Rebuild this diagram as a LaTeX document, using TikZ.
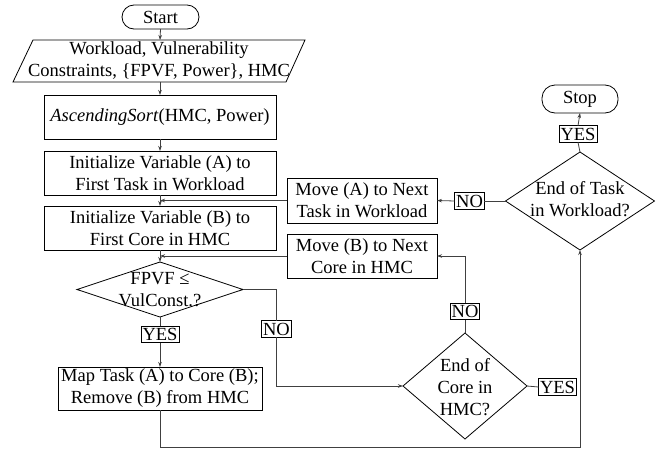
\documentclass[tikz,border=0pt]{standalone}
\usepackage{fontspec}
\setmainfont{Liberation Serif}
\usetikzlibrary{shapes.geometric,arrows.meta,calc}
\begin{document}
\begin{tikzpicture}[x=1pt,y=-1pt,
  font=\fontsize{18.5}{22}\selectfont,
  every node/.style={inner sep=0pt, outer sep=0pt},
  box/.style={draw, line width=0.8pt, align=center},
  tag/.style={draw, line width=0.8pt, inner xsep=1.5pt, inner ysep=2pt, text height=12.5pt, text depth=0pt},
  dia/.style={draw, diamond, line width=0.8pt, inner sep=0pt},
  txt/.style={align=center},
  con/.style={draw=black!75, line width=0.8pt},
  arr/.style={con, -{Stealth[length=5pt,width=3.5pt]}}
]
\useasboundingbox (0,0) rectangle (662,450);

% left column
\node[box, rounded corners=12pt, minimum width=77pt, minimum height=24pt] (start) at (160.5,17) {Start};
\node[txt] (inp) at (159,61) {Workload, Vulnerability\\Constraints, \{FPVF, Power\}, HMC};
\draw[line width=0.8pt] ($(inp.center)+(-126,-21)$) coordinate (p1) -- ($(inp.center)+(146,-21)$) coordinate (p2)
   -- ($(inp.center)+(127,21)$) coordinate (p3) -- ($(inp.center)+(-146,21)$) coordinate (p4) -- cycle;
\coordinate (inpN) at ($(inp.center)+(1,-21)$);
\coordinate (inpS) at ($(inp.center)+(1,21)$);
\node[box, minimum width=232pt, minimum height=44pt] (sort) at (160,117) {\textit{AscendingSort}(HMC, Power)};
\node[box, minimum width=232pt, minimum height=44pt] (initA) at (160,173) {Initialize Variable (A) to\\First Task in Workload};
\node[box, minimum width=232pt, minimum height=44pt] (initB) at (160,228) {Initialize Variable (B) to\\First Core in HMC};
\node[dia, minimum width=166pt, minimum height=55pt] (d1) at (160,289.5) {};
\node[txt] (d1t) at (160,289.5) {FPVF ≤\\VulConst.?};
\node[tag] (yes1) at (160,334.5) {YES};
\node[box, minimum width=204pt, minimum height=43pt] (map) at (160,388.5) {Map Task (A) to Core (B);\\Remove (B) from HMC};
\node[tag] (no1) at (276.5,329) {NO};

% middle
\node[box, minimum width=150pt, minimum height=45pt] (moveA) at (362,200.5) {Move (A) to Next\\Task in Workload};
\node[box, minimum width=150pt, minimum height=44pt] (moveB) at (362,256) {Move (B) to Next\\Core in HMC};
\node[tag] (no3) at (469.5,201) {NO};
\node[dia, minimum width=124pt, minimum height=106pt] (d2) at (465,386) {};
\node[txt] (d2t) at (465,387) {End of\\Core in\\HMC?};
\node[tag] (no2) at (465,311.5) {NO};
\node[tag] (yes2) at (557.5,387) {YES};

% right
\node[dia, minimum width=149pt, minimum height=98pt] (d3) at (580,201) {};
\node[txt] (d3t) at (580,199) {End of Task\\in Workload?};
\node[tag] (yes3) at (578,134) {YES};
\node[box, rounded corners=13pt, minimum width=76pt, minimum height=28pt] (stop) at (580,99) {Stop};

\coordinate (c1) at (160,447);
\coordinate (c2) at (580,447);

% connectors
\draw[arr] (start.south) -- (inpN);
\draw[arr] (inpS) -- (sort.north);
\draw[arr] (sort.south) -- (initA.north);
\draw[arr] (initA.south) -- (initB.north);
\draw[arr] (initB.south) -- (d1.north);
\draw[con] (d1.south) -- (yes1.north);
\draw[arr] (yes1.south) -- (map.north);
\draw[con] (d1.east) -| (no1.north);
\draw[arr] (no1.south) |- (d2.west);
\draw[con] (d2.north) -- (no2.south);
\draw[arr] (no2.north) |- (moveB.east);
\draw[arr] (moveB.west) -- (moveB.west -| initB.south);
\draw[con] (d2.east) -- (yes2.west);
\draw[arr] (map.south) -- (c1) -- (c2) -- (d3.south);
\draw[con] (d3.west) -- (no3.east);
\draw[arr] (no3.west) -- (moveA.east);
\draw[arr] (moveA.west) -- (moveA.west -| initA.south);
\draw[con] (d3.north) -- (yes3.south);
\draw[arr] (yes3.north) -- (stop.south);
\end{tikzpicture}
\end{document}
